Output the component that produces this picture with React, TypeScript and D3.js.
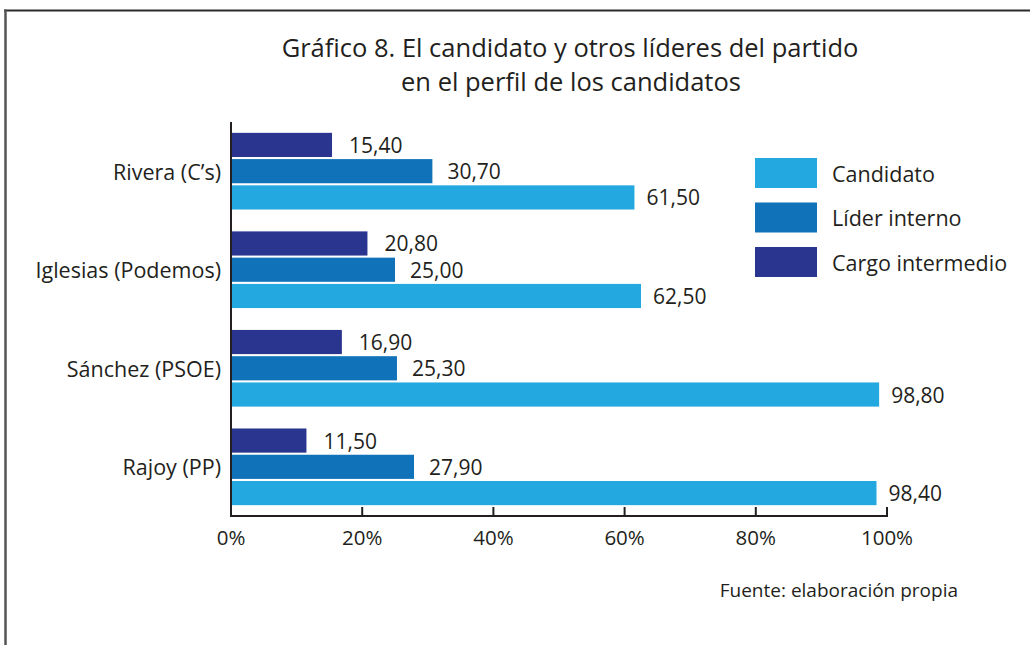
import React from "react";
import * as d3 from "d3";

const categories = ["Rivera (C’s)", "Iglesias (Podemos)", "Sánchez (PSOE)", "Rajoy (PP)"];
const seriesKeys = ["cargo", "lider", "candidato"];
const cargoValues = [15.4, 20.8, 16.9, 11.5];
const liderValues = [30.7, 25.0, 25.3, 27.9];
const candidatoValues = [61.5, 62.5, 98.8, 98.4];
const tickValues = [0, 20, 40, 60, 80, 100];
const legendItems = [
  { key: "candidato", label: "Candidato" },
  { key: "lider", label: "Líder interno" },
  { key: "cargo", label: "Cargo intermedio" },
];

const colors: Record<string, string> = {
  candidato: "#23a8e0",
  lider: "#1072b9",
  cargo: "#29358e",
};
const labelOffset: Record<string, number> = { candidato: 12, lider: 15, cargo: 17 };
const valuesByKey: Record<string, number[]> = {
  cargo: cargoValues,
  lider: liderValues,
  candidato: candidatoValues,
};

const FONT = "'Open Sans', 'Noto Sans', sans-serif";
const TEXT = "#231f20";

export default function App() {
  const W = 1030, H = 645;
  const x = d3.scaleLinear().domain([0, 100]).range([231, 887]);
  const y = d3.scaleBand<string>().domain(categories).range([122, 516]).paddingInner(0.222).paddingOuter(0.11);
  const inner = d3.scaleBand<string>().domain(seriesKeys).range([0, y.bandwidth()]).paddingInner(0.08);
  const fmt = (v: number) => d3.format(".2f")(v).replace(".", ",");
  const axisY = 516;

  return (
    <svg width={W} height={H} style={{ position: "absolute", left: 0, top: 0, background: "#fff" }} fontFamily={FONT}>
      <rect x={0} y={0} width={W} height={H} fill="#fff" />
      {/* frame */}
      <line x1={4} x2={W} y1={10.5} y2={10.5} stroke="#2b2b2b" strokeWidth={2} />
      <line x1={5.5} x2={5.5} y1={9.5} y2={H} stroke="#555" strokeWidth={2.5} />

      {/* title */}
      <text x={570} y={57} textAnchor="middle" fontSize={25.5} fill={TEXT}>
        Gráfico 8. El candidato y otros líderes del partido
      </text>
      <text x={571} y={91} textAnchor="middle" fontSize={25.5} fill={TEXT}>
        en el perfil de los candidatos
      </text>

      {/* bars */}
      {categories.map((c, i) => (
        <g key={c} transform={`translate(0,${y(c)})`}>
          {seriesKeys.map((k) => {
            const v = valuesByKey[k][i];
            const by = inner(k)!;
            return (
              <g key={k}>
                <rect x={x(0)} y={by} width={x(v) - x(0)} height={inner.bandwidth()} fill={colors[k]} />
                <text
                  x={x(v) + labelOffset[k]}
                  y={by + inner.bandwidth() / 2}
                  dominantBaseline="central"
                  fontSize={21}
                  fill={TEXT}
                >
                  {fmt(v)}
                </text>
              </g>
            );
          })}
          <text x={221} y={y.bandwidth() / 2} textAnchor="end" dominantBaseline="central" fontSize={21.5} fill={TEXT}>
            {c}
          </text>
        </g>
      ))}

      {/* axes */}
      <line x1={x(0)} x2={x(0)} y1={122} y2={axisY + 1} stroke={TEXT} strokeWidth={2} />
      <line x1={x(0) - 1} x2={x(100) + 1} y1={axisY} y2={axisY} stroke={TEXT} strokeWidth={2} />
      {tickValues.map((t) => (
        <g key={t}>
          <line x1={x(t)} x2={x(t)} y1={axisY - 9} y2={axisY} stroke={TEXT} strokeWidth={2} />
          <text x={x(t)} y={537} textAnchor="middle" dominantBaseline="central" fontSize={20.5} fill={TEXT}>
            {t}%
          </text>
        </g>
      ))}

      {/* legend */}
      {legendItems.map((it, i) => (
        <g key={it.key} transform={`translate(755,${158 + i * 44.5})`}>
          <rect x={0} y={0} width={62} height={30} fill={colors[it.key]} />
          <text x={77} y={15} dominantBaseline="central" fontSize={21.5} fill={TEXT}>
            {it.label}
          </text>
        </g>
      ))}

      {/* source */}
      <text x={958} y={590} textAnchor="end" dominantBaseline="central" fontSize={19} fill={TEXT}>
        Fuente: elaboración propia
      </text>
    </svg>
  );
}
